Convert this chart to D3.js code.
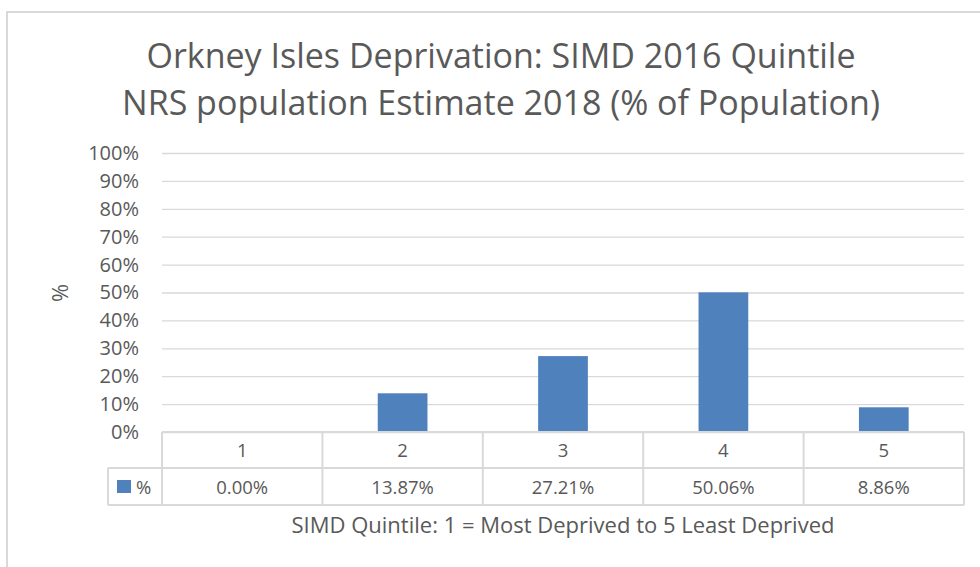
<!DOCTYPE html>
<html>
<head>
<meta charset="utf-8">
<script src="https://cdn.jsdelivr.net/npm/d3@7"></script>
<style>
  html, body { margin: 0; padding: 0; background: #fff; }
  svg { display: block; }
  text { font-family: "Open Sans", sans-serif; fill: #595959; }
</style>
</head>
<body>
<svg id="chart" width="980" height="567"></svg>
<script>
const titleLines = ["Orkney Isles Deprivation: SIMD 2016 Quintile", "NRS population Estimate 2018 (% of Population)"];
const categories = ["1", "2", "3", "4", "5"];
const seriesName = "%";
const values = [0.00, 13.87, 27.21, 50.06, 8.86];
const yTicks = [0, 10, 20, 30, 40, 50, 60, 70, 80, 90, 100];
const yAxisTitle = "%";
const xAxisTitle = "SIMD Quintile: 1 = Most Deprived to 5 Least Deprived";

const svg = d3.select("#chart");
const W = 980, H = 567;
const plot = { left: 162, right: 964, top: 153, bottom: 432 };
const table = { legendLeft: 108, row1: 468, row2: 505 };
const barColor = "#4f81bd";
const gridColor = "#d9d9d9";

svg.append("rect").attr("width", W).attr("height", H).attr("fill", "#fff");
// outer chart border
svg.append("rect").attr("x", 7).attr("y", 12).attr("width", W + 10).attr("height", H + 10)
  .attr("fill", "none").attr("stroke", gridColor).attr("stroke-width", 2);

// title
svg.append("text").attr("text-anchor", "middle").attr("font-size", 34)
  .selectAll("tspan").data(titleLines).join("tspan")
  .attr("x", 501).attr("y", (d, i) => 68 + i * 47).text(d => d);

const x = d3.scaleBand().domain(categories).range([plot.left, plot.right]).paddingInner(0).paddingOuter(0);
const y = d3.scaleLinear().domain([0, 100]).range([plot.bottom, plot.top]);

// gridlines
const grid = svg.append("g").attr("transform", `translate(${plot.left},0)`)
  .call(d3.axisRight(y).tickValues(yTicks).tickSize(plot.right - plot.left).tickFormat(""));
grid.select(".domain").remove();
grid.selectAll("line").attr("stroke", gridColor).attr("stroke-width", 1.3);

// y axis labels
const ya = svg.append("g").attr("transform", `translate(${plot.left},0)`)
  .call(d3.axisLeft(y).tickValues(yTicks).tickSize(0).tickPadding(23).tickFormat(d => d + "%"));
ya.select(".domain").remove();
ya.attr("font-size", 20).attr("font-family", "Open Sans, sans-serif");
ya.selectAll("text").attr("font-size", 20).attr("fill", "#595959");

// y axis title
svg.append("text").attr("transform", `translate(68,293) rotate(-90)`).attr("text-anchor", "middle")
  .attr("font-size", 22).text(yAxisTitle);

// bars
const bw = x.bandwidth() * 0.31;
svg.append("g").selectAll("rect").data(values).join("rect")
  .attr("x", (d, i) => x(categories[i]) + (x.bandwidth() - bw) / 2)
  .attr("y", d => y(d))
  .attr("width", bw)
  .attr("height", d => y(0) - y(d))
  .attr("fill", barColor);

// data table
const tg = svg.append("g").attr("stroke", gridColor).attr("stroke-width", 2).attr("fill", "none");
tg.append("line").attr("x1", plot.left).attr("x2", plot.right).attr("y1", plot.bottom).attr("y2", plot.bottom);
tg.append("line").attr("x1", table.legendLeft).attr("x2", plot.right).attr("y1", table.row1).attr("y2", table.row1);
tg.append("line").attr("x1", table.legendLeft).attr("x2", plot.right).attr("y1", table.row2).attr("y2", table.row2);
const bounds = categories.map(c => x(c)).concat([plot.right]);
tg.selectAll("line.v").data(bounds).join("line").attr("class", "v")
  .attr("x1", d => d).attr("x2", d => d).attr("y1", plot.bottom).attr("y2", table.row2);
tg.append("line").attr("x1", table.legendLeft).attr("x2", table.legendLeft).attr("y1", table.row1).attr("y2", table.row2);

svg.append("g").selectAll("text").data(categories).join("text")
  .attr("x", d => x(d) + x.bandwidth() / 2).attr("y", 457)
  .attr("text-anchor", "middle").attr("font-size", 18.5).text(d => d);

svg.append("g").selectAll("text").data(values).join("text")
  .attr("x", (d, i) => x(categories[i]) + x.bandwidth() / 2).attr("y", 494)
  .attr("text-anchor", "middle").attr("font-size", 18.5).text(d => d.toFixed(2) + "%");

// legend key
svg.append("rect").attr("x", 117).attr("y", 480).attr("width", 14).attr("height", 13).attr("fill", barColor);
svg.append("text").attr("x", 136).attr("y", 494).attr("font-size", 18.5).text(seriesName);

// x axis title
svg.append("text").attr("x", (plot.left + plot.right) / 2).attr("y", 533)
  .attr("text-anchor", "middle").attr("font-size", 22).text(xAxisTitle);
</script>
</body>
</html>
